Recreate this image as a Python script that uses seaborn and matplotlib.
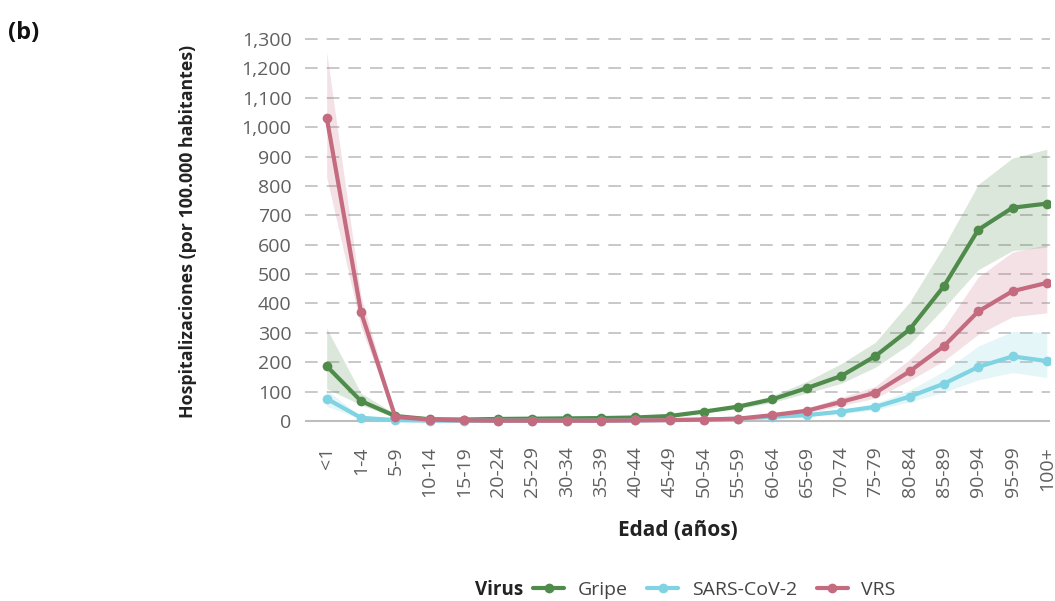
import matplotlib
matplotlib.use("Agg")
import matplotlib.pyplot as plt
import seaborn as sns
import pandas as pd
import numpy as np

ages = ["<1", "1-4", "5-9", "10-14", "15-19", "20-24", "25-29", "30-34", "35-39",
        "40-44", "45-49", "50-54", "55-59", "60-64", "65-69", "70-74", "75-79",
        "80-84", "85-89", "90-94", "95-99", "100+"]

gripe = [187, 68, 17, 6, 5, 7, 8, 9, 10, 12, 17, 32, 49, 74, 112, 153, 221, 312, 459, 651, 726, 740]
gripe_lo = [110, 55, 12, 4, 3, 5, 6, 7, 8, 10, 14, 27, 42, 63, 95, 128, 183, 262, 385, 515, 580, 592]
gripe_hi = [315, 95, 24, 9, 7, 9, 10, 11, 13, 15, 21, 38, 57, 86, 135, 195, 268, 405, 595, 805, 895, 925]

sars = [76, 11, 3, 1, 1, 1, 1, 1, 1, 2, 3, 5, 8, 14, 20, 32, 48, 83, 127, 184, 220, 204]
sars_lo = [50, 7, 2, 0, 0, 0, 0, 0, 0, 1, 2, 4, 6, 11, 15, 25, 38, 65, 98, 140, 165, 148]
sars_hi = [105, 16, 5, 2, 2, 2, 2, 2, 2, 3, 4, 7, 10, 18, 26, 40, 60, 105, 170, 255, 305, 302]

vrs = [1033, 371, 14, 5, 2, 1, 1, 1, 1, 2, 3, 5, 8, 20, 35, 65, 96, 169, 255, 373, 442, 470]
vrs_lo = [830, 320, 10, 3, 1, 0, 0, 0, 0, 1, 2, 4, 6, 15, 27, 52, 78, 138, 205, 295, 355, 368]
vrs_hi = [1255, 425, 19, 7, 3, 2, 2, 2, 2, 3, 4, 7, 10, 25, 44, 80, 118, 210, 318, 490, 575, 600]

virus_names = ["Gripe", "SARS-CoV-2", "VRS"]
colors = ["#4f8b4b", "#7fd3e2", "#c46b80"]
yticks = list(range(0, 1301, 100))

sns.set_theme(style="white")
plt.rcParams['font.family'] = ['Open Sans', 'DejaVu Sans']

rows = []
for name, vals in zip(virus_names, [gripe, sars, vrs]):
    for a, v in zip(ages, vals):
        rows.append({"Edad": a, "Valor": v, "Virus": name})
df = pd.DataFrame(rows)

fig = plt.figure(figsize=(10.55, 6.01), dpi=100)
ax = fig.add_axes([0.2895, 0.2897, 0.706, 0.6502])

xpos = np.arange(len(ages))
for lo, hi, c in zip([gripe_lo, sars_lo, vrs_lo], [gripe_hi, sars_hi, vrs_hi], colors):
    ax.fill_between(xpos, lo, hi, color=c, alpha=0.2, linewidth=0, zorder=1)

sns.lineplot(data=df, x="Edad", y="Valor", hue="Virus", palette=dict(zip(virus_names, colors)),
             hue_order=virus_names, marker="o", markersize=7, markeredgewidth=0,
             linewidth=3, ax=ax, sort=False, zorder=3)

ax.set_ylim(-20, 1310)
ax.set_xlim(-0.62, 21.1)
ax.set_yticks(yticks)
ax.set_yticklabels([f"{v:,}" for v in yticks])
for v in yticks[1:]:
    ax.axhline(v, color="#c4c4c4", linewidth=1.3, linestyle=(0, (7, 5)), zorder=0)
ax.axhline(0, color="#bdbdbd", linewidth=1.5, zorder=0.5)

for s in ax.spines.values():
    s.set_visible(False)
ax.tick_params(axis="both", length=0, labelsize=14, labelcolor="#606060")
ax.tick_params(axis="y", pad=10)
ax.tick_params(axis="x", pad=14)
plt.setp(ax.get_xticklabels(), rotation=90)

ax.set_xlabel("Edad (años)", fontsize=15, fontweight="bold", color="#222222", labelpad=16)
ax.set_ylabel("Hospitalizaciones (por 100.000 habitantes)", fontsize=12.8, fontweight="bold",
              color="#222222", labelpad=32)

handles, labels = ax.get_legend_handles_labels()
ax.get_legend().remove()
leg = fig.legend(handles, labels, loc="center left", bbox_to_anchor=(533 / 1055, 1 - 590 / 601),
                 ncol=3, frameon=False, fontsize=14, handlelength=1.6, columnspacing=1.0,
                 handletextpad=0.7, borderaxespad=0, borderpad=0)
for t in leg.get_texts():
    t.set_color("#444444")
fig.text(523 / 1055, 1 - 590 / 601, "Virus", fontsize=13.5, fontweight="bold", color="#222222",
         ha="right", va="center")

fig.text(0.008, 0.935, "(b)", fontsize=17, fontweight="bold", color="#111111")

fig.savefig("out.png", dpi=100)
